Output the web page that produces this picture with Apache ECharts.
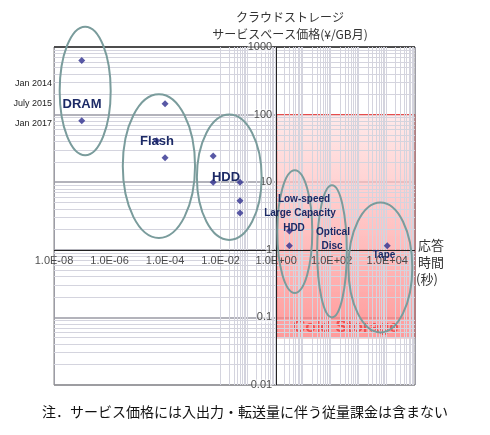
<!DOCTYPE html>
<html><head><meta charset="utf-8">
<script src="https://cdn.jsdelivr.net/npm/echarts@6/dist/echarts.min.js"></script>
<style>html,body{margin:0;padding:0;background:#fff}#c{width:490px;height:435px}</style>
</head><body><div id="c"></div>
<script>
const xTickExps = [-8, -6, -4, -2, 0, 2, 4];
const yTickExps = [-2, -1, 0, 1, 2, 3];
const yTickLabels = ['0.01', '0.1', '1', '10', '100', '1000'];
const dramPts = [[1e-7, 630], [1e-7, 81]];
const flashPts = [[1e-4, 145], [5e-5, 41], [1e-4, 23]];
const hddPts = [[5.4e-3, 24.5], [5.4e-3, 10], [0.05, 10], [0.05, 5.3], [0.05, 3.5]];
const lowSpeedPts = [[3, 1.9], [3, 1.15]];
const tapePts = [[1e4, 1.15]];
const groupEllipses = [
  {x0: 1.6e-8, x1: 1.1e-6, y0: 2000, y1: 25},
  {x0: 3e-6, x1: 1.2e-3, y0: 200, y1: 1.5},
  {x0: 1.4e-3, x1: 0.3, y0: 100, y1: 1.4},
  {x0: 1.1, x1: 20, y0: 15, y1: 0.23},
  {x0: 30, x1: 350, y0: 9, y1: 0.1},
  {x0: 400, x1: 80000, y0: 5, y1: 0.06}
];

const minorX = [], minorY = [];
for (let e = -8; e < 5; e++) for (let m = 2; m <= 9; m++) minorX.push({xAxis: m * Math.pow(10, e)});
for (let e = -2; e < 3; e++) for (let m = 2; m <= 9; m++) minorY.push({yAxis: m * Math.pow(10, e)});

const ch = echarts.init(document.getElementById('c'));
const allPts = dramPts.concat(flashPts, hddPts, lowSpeedPts, tapePts);
const navy = '#2e2e8f';
ch.setOption({
  animation: false,
  grid: {left: 54, right: 75, top: 47, bottom: 50},
  title: {text: 'クラウドストレージ\nサービスベース価格(¥/GB月)', left: 285, textAlign: 'center', top: 4,
    textStyle: {fontSize: 12, fontWeight: 'normal', color: '#333', lineHeight: 17, fontFamily: 'Noto Sans CJK JP'}},
  xAxis: {type: 'log', min: 1e-8, max: 1e5, logBase: 10,
    axisLine: {show: false}, axisTick: {show: false}, axisLabel: {show: false},
    splitLine: {show: true, lineStyle: {color: '#b0b0c4', width: 1}}},
  yAxis: {type: 'log', min: 0.01, max: 1000, logBase: 10,
    axisLine: {show: false}, axisTick: {show: false}, axisLabel: {show: false},
    splitLine: {show: true, lineStyle: {color: '#9a9aa4', width: 1.5}}},
  series: [
    {type: 'scatter', data: [], silent: true, z: 1,
      markLine: {silent: true, symbol: 'none', label: {show: false}, animation: false,
        lineStyle: {color: '#d4d4de', width: 1, type: 'solid'}, data: minorX.concat(minorY)}},
    {type: 'scatter', data: allPts, symbol: 'diamond', symbolSize: 7, itemStyle: {color: navy}, z: 5,
      markArea: {silent: true, itemStyle: {
          color: new echarts.graphic.LinearGradient(0, 0, 0, 1, [{offset: 0, color: 'rgba(255,225,225,0.7)'}, {offset: 1, color: 'rgba(255,120,120,0.75)'}]),
          borderColor: '#e84040', borderWidth: 1},
        label: {show: true, position: 'insideBottom', formatter: 'Cold Storage', color: '#f05050', fontSize: 17, fontWeight: 'bold', distance: 2, fontFamily: 'Liberation Sans'},
        data: [[{coord: [1.05, 100]}, {coord: [1e5, 0.05]}]]},
      markLine: {silent: true, symbol: 'none', label: {show: false}, lineStyle: {color: '#222', width: 1, type: 'solid'},
        data: [{xAxis: 1}, {yAxis: 1}]}},
    {type: 'scatter', symbolSize: 0, silent: true, z: 6,
      data: yTickExps.map((e, i) => ({value: [1, Math.pow(10, e)], label: {formatter: yTickLabels[i]}})),
      label: {show: true, position: 'left', distance: 4, color: '#222', fontSize: 11, fontFamily: 'Liberation Sans', backgroundColor: 'rgba(255,255,255,0.6)'}},
    {type: 'scatter', symbolSize: 0, silent: true, z: 6,
      data: xTickExps.map(e => [Math.pow(10, e), 1]),
      label: {show: true, position: 'bottom', distance: 6, color: '#222', fontSize: 11, fontFamily: 'Liberation Sans',
        formatter: p => { const e = Math.round(Math.log10(p.value[0])); return '1.0E' + (e < 0 ? '-' : '+') + String(Math.abs(e)).padStart(2, '0'); }}}
  ]
});

function drawOverlay() {
  const g = [];
  groupEllipses.forEach(el => {
    const a = ch.convertToPixel({gridIndex: 0}, [el.x0, el.y0]);
    const b = ch.convertToPixel({gridIndex: 0}, [el.x1, el.y1]);
    g.push({type: 'ellipse', shape: {cx: (a[0] + b[0]) / 2, cy: (a[1] + b[1]) / 2, rx: Math.abs(b[0] - a[0]) / 2, ry: Math.abs(b[1] - a[1]) / 2},
      style: {fill: 'none', stroke: '#7a9c9c', lineWidth: 2}, z: 10});
  });
  const txt = (x, y, t, o) => g.push(Object.assign({type: 'text', x, y, z: 20,
    style: Object.assign({text: t, fill: '#1c2a66', font: 'bold 13px Liberation Sans', textAlign: 'center', textVerticalAlign: 'middle'}, o || {})}));
  txt(82, 104, 'DRAM');
  txt(157, 141, 'Flash');
  txt(226, 177, 'HDD');
  txt(304, 199, 'Low-speed', {font: 'bold 10px Liberation Sans'});
  txt(300, 213, 'Large Capacity', {font: 'bold 10px Liberation Sans'});
  txt(294, 228, 'HDD', {font: 'bold 10px Liberation Sans'});
  txt(333, 232, 'Optical', {font: 'bold 10px Liberation Sans'});
  txt(332, 246, 'Disc', {font: 'bold 10px Liberation Sans'});
  txt(384, 255, 'Tape', {font: 'bold 10px Liberation Sans'});
  const sm = {font: '9px Liberation Sans', fill: '#222', textAlign: 'right'};
  txt(52, 84, 'Jan 2014', sm);
  txt(52, 104, 'July 2015', sm);
  txt(52, 124, 'Jan 2017', sm);
  txt(418, 245, '応答', {font: '13px Noto Sans CJK JP', fill: '#333', textAlign: 'left'});
  txt(418, 262, '時間', {font: '13px Noto Sans CJK JP', fill: '#333', textAlign: 'left'});
  txt(416, 279, '(秒)', {font: '13px Noto Sans CJK JP', fill: '#333', textAlign: 'left'});
  txt(245, 412, '注．サービス価格には入出力・転送量に伴う従量課金は含まない', {font: '14px Noto Sans CJK JP', fill: '#111'});
  g.push({type: 'rect', shape: {x: 54, y: 47, width: 361, height: 338}, style: {fill: 'none', stroke: '#888', lineWidth: 1}, z: 4});
  g.push({type: 'line', shape: {x1: 54, y1: 47, x2: 415, y2: 47}, style: {stroke: '#333', lineWidth: 1.5}, z: 4});
  ch.setOption({graphic: g});
}
drawOverlay();
</script></body></html>
